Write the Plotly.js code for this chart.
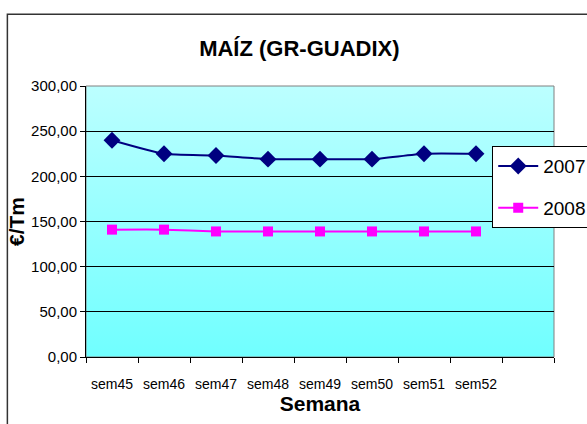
<!DOCTYPE html>
<html>
<head>
<meta charset="utf-8">
<script src="https://cdn.plot.ly/plotly-3.0.1.min.js"></script>
<style>
  html, body { margin: 0; padding: 0; background: #fff; }
  #chart { width: 587px; height: 424px; }
</style>
</head>
<body>
<div id="chart"></div>
<script>
// --- DATOS --- //
const semanas = ['sem45', 'sem46', 'sem47', 'sem48', 'sem49', 'sem50', 'sem51', 'sem52', ' '];
const precios2007 = [240, 225, 223, 219, 219, 219, 225, 225, null];
const precios2008 = [141, 141, 139, 139, 139, 139, 139, 139, null];
const yTicks = [0, 50, 100, 150, 200, 250, 300];

const fuente = '"Liberation Sans", Arial, sans-serif';

// fondo degradado del área de trazado
const degradado = 'data:image/svg+xml;utf8,' + encodeURIComponent(
	'<svg xmlns="http://www.w3.org/2000/svg" width="10" height="100" preserveAspectRatio="none">' +
	'<defs><linearGradient id="g" x1="0" y1="0" x2="0" y2="1">' +
	'<stop offset="0" stop-color="#BCFFFF"/><stop offset="1" stop-color="#70FFFF"/>' +
	'</linearGradient></defs><rect width="10" height="100" fill="url(#g)"/></svg>'
);

const trazas = [
	{
		x: semanas, y: precios2007, name: '2007', legendgroup: 'a',
		type: 'scatter', mode: 'lines+markers',
		line: { color: '#000080', width: 2, shape: 'spline', smoothing: 0.5 },
		marker: { symbol: 'diamond', size: 13, color: '#000080' }
	},
	{
		x: semanas, y: precios2008, name: '2008', legendgroup: 'b',
		type: 'scatter', mode: 'lines+markers',
		line: { color: '#FF00FF', width: 2, shape: 'spline', smoothing: 0.5 },
		marker: { symbol: 'square', size: 10, color: '#FF00FF' }
	}
];

const layout = {
	width: 587, height: 424, autosize: false,
	margin: { l: 86, r: 33, t: 86, b: 67, autoexpand: false },
	paper_bgcolor: '#fff',
	plot_bgcolor: 'rgba(0,0,0,0)',
	separators: ',.',
	showlegend: true,
	title: {
		text: '<b>MAÍZ (GR-GUADIX)</b>',
		font: { family: fuente, size: 22, color: '#000' },
		x: 0.51, xanchor: 'center', y: 0.885, yanchor: 'middle'
	},
	xaxis: {
		type: 'category', categoryorder: 'array', categoryarray: semanas,
		range: [-0.5, 8.5], tickangle: 0,
		tickson: 'boundaries', ticks: 'outside', ticklen: 5, tickcolor: '#000',
		ticklabelstandoff: 14,
		showline: true, linecolor: '#000', linewidth: 1,
		showgrid: false, zeroline: false,
		tickfont: { family: fuente, size: 14, color: '#000' },
		title: { text: '<b>Semana</b>', font: { family: fuente, size: 21, color: '#000' }, standoff: 0 }
	},
	yaxis: {
		range: [0, 300], tickvals: yTicks, tickformat: '.2f',
		ticks: 'outside', ticklen: 5, tickcolor: '#000',
		showline: true, linecolor: '#000', linewidth: 1,
		showgrid: true, gridcolor: '#000', gridwidth: 1, zeroline: false,
		tickfont: { family: fuente, size: 15, color: '#000' },
		title: { text: '<b>€/Tm</b>', font: { family: fuente, size: 21, color: '#000' }, standoff: 0 }
	},
	legend: {
		x: 0.868, xanchor: 'left', y: 0.778, yanchor: 'top',
		bgcolor: '#fff', bordercolor: '#000', borderwidth: 1,
		font: { family: fuente, size: 19, color: '#000' },
		tracegroupgap: 14, itemwidth: 40
	},
	images: [{
		source: degradado, xref: 'paper', yref: 'paper',
		x: 0, y: 1, sizex: 1, sizey: 1, sizing: 'stretch',
		xanchor: 'left', yanchor: 'top', layer: 'below'
	}],
	shapes: [
		// borde del área de trazado
		{ type: 'rect', xref: 'paper', yref: 'paper', x0: 0, x1: 1, y0: 0, y1: 1,
		  line: { color: '#808080', width: 1 }, layer: 'below' },
		// borde del gráfico
		{ type: 'rect', xref: 'paper', yref: 'paper', x0: -0.168, x1: 1.15, y0: -0.3, y1: 1.265,
		  line: { color: '#333', width: 1.5 } }
	]
};

Plotly.newPlot('chart', trazas, layout, { displayModeBar: false, staticPlot: true });
</script>
</body>
</html>
